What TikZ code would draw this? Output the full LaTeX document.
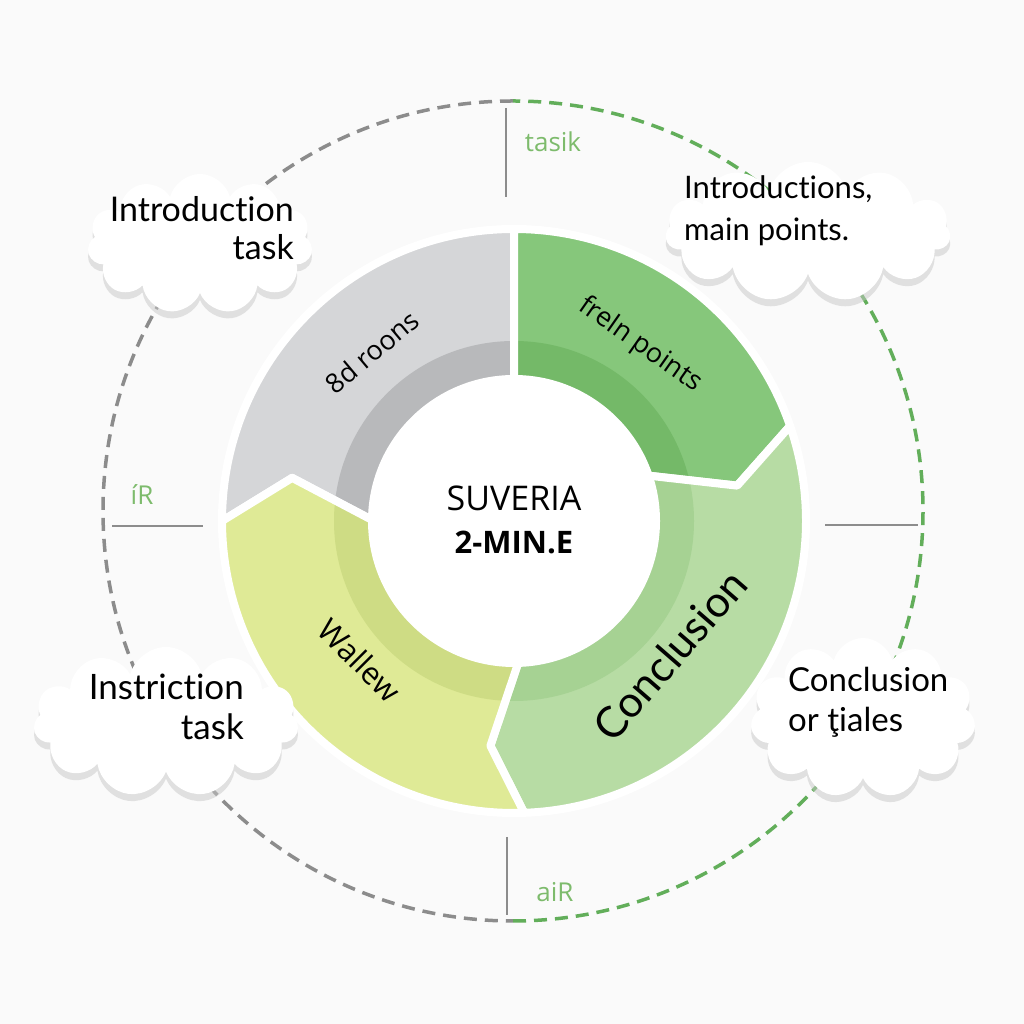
\documentclass[tikz,border=0pt]{standalone}
\usepackage{fontspec}
\setmainfont{Open Sans}
\newfontfamily\cloudfont[Ligatures=NoCommon]{Lato}
\usepackage{xcolor}
\usepackage{tikz}
\usetikzlibrary{positioning, shapes.symbols, shadows}

\definecolor{bgwhite}{HTML}{FAFAFA}
\definecolor{seggray}{HTML}{D5D6D8}
\definecolor{bandgray}{HTML}{B8B9BB}
\definecolor{seggreen}{HTML}{86C77B}
\definecolor{bandgreen}{HTML}{74B968}
\definecolor{segpale}{HTML}{B7DCA4}
\definecolor{bandpale}{HTML}{A6D293}
\definecolor{seglime}{HTML}{DFEA96}
\definecolor{bandlime}{HTML}{CEDC84}
\definecolor{dashgray}{HTML}{8C8C8C}
\definecolor{dashgreen}{HTML}{62AE5A}
\definecolor{ticklabel}{HTML}{7DBB6C}

% ring piece: start angle, notch offset, end angle, tip offset
\newcommand{\segpath}[4]{(#1:292) arc[start angle=#1, end angle=#3, radius=292] -- (#3-#4:226) -- (#3:140) arc[start angle=#3, end angle=#1, radius=140] -- (#1-#2:226) -- cycle}
\newcommand{\ringseg}[6]{%
  \fill[#5] \segpath{#1}{#2}{#3}{#4};
  \begin{scope}
    \clip \segpath{#1}{#2}{#3}{#4};
    \fill[#6] (0,0) circle[radius=180];
  \end{scope}
  \draw[white, line width=8pt, line join=round] \segpath{#1}{#2}{#3}{#4};
}

\begin{document}
\begin{tikzpicture}[x=1pt, y=1pt,
    dashring/.style={line width=3.5pt, dash pattern=on 13pt off 8pt},
    tickline/.style={dashgray, line width=1.6pt},
    ticktext/.style={ticklabel, font=\fontsize{26}{28}\selectfont},
    cloudbox/.style={cloud, cloud puffs=11, cloud ignores aspect, fill=white, draw=none,
        drop shadow={shadow xshift=0pt, shadow yshift=-7pt, fill=black!22}},
    cloudtext/.style={font=\cloudfont\fontsize{33}{40}\selectfont, inner sep=0pt},
    ringtext/.style={font=\fontsize{27}{30}\selectfont, inner sep=0pt}]
    \useasboundingbox (0,0) rectangle (1024,1024);
    \fill[bgwhite] (0,0) rectangle (1024,1024);

    % outer dashed circle
    \coordinate (dashc) at (513,513);
    \draw[dashgray, dashring] (dashc) ++(90:410) arc[start angle=90, end angle=270, radius=410];
    \draw[dashgreen, dashring] (dashc) ++(-90:410) arc[start angle=-90, end angle=90, radius=410];

    % ticks
    \draw[tickline] (506,916) -- (506,827);
    \node[ticktext] (toplbl) at (553,882) {tasik};
    \draw[tickline] (112,498) -- (203,498);
    \node[ticktext] (leftlbl) at (142,529) {íR};
    \draw[tickline] (825,499) -- (918,499);
    \draw[tickline] (507,187) -- (507,109);
    \node[ticktext] (botlbl) at (555,132) {aiR};

    % ring
    \begin{scope}[shift={(514,503)}]
        \ringseg{180}{11}{90}{0}{seggray}{bandgray}
        \ringseg{90}{0}{19}{10}{seggreen}{bandgreen}
        \ringseg{19}{10}{-88}{8}{segpale}{bandpale}
        \ringseg{272}{8}{180}{11}{seglime}{bandlime}
        \fill[white] (0,0) circle[radius=146];
    \end{scope}

    % centre
    \node[font=\fontsize{34}{38}\selectfont] (title) at (514,526) {SUVERIA};
    \node[font=\bfseries\fontsize{31}{34}\selectfont] (subtitle) at (514,482) {2-MIN.E};

    % ring labels
    \node[ringtext, rotate=40] (roons) at (372,672) {8d roons};
    \node[ringtext, rotate=-35] (points) at (640,679) {freln points};
    \node[ringtext, rotate=-45, font=\fontsize{31}{34}\selectfont] (wallew) at (360,364) {Wallew};
    \node[ringtext, rotate=49, font=\cloudfont\fontsize{43}{48}\selectfont] (concl) at (670,369) {Conclusion};

    % clouds
    \node[cloudbox, minimum width=225pt, minimum height=140pt] (introcloud) at (200,780) {};
    \node[cloudtext, align=right, anchor=east, font=\cloudfont\fontsize{34}{38}\selectfont] (introtext) at (294,796) {Introduction\\task};
    \node[cloudbox, minimum width=285pt, minimum height=140pt] (pointcloud) at (808,792) {};
    \node[cloudtext, align=left, anchor=west, font=\cloudfont\fontsize{31}{42}\selectfont] (pointtext) at (684,813) {Introductions,\\main points.};
    \node[cloudbox, minimum width=265pt, minimum height=150pt] (instrcloud) at (166,302) {};
    \node[cloudtext, align=right, anchor=east, font=\cloudfont\fontsize{35}{40}\selectfont] (instrtext) at (244,317) {Instriction\\task};
    \node[cloudbox, minimum width=225pt, minimum height=160pt] (conclcloud) at (863,306) {};
    \node[cloudtext, align=left, anchor=west, font=\cloudfont\fontsize{33}{40}\selectfont] (concltext) at (788,322) {Conclusion\\or ţiales};
\end{tikzpicture}
\end{document}
